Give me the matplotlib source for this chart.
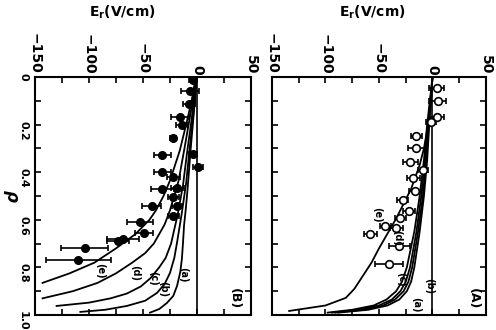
import matplotlib
matplotlib.use('Agg')
import matplotlib.pyplot as plt
from matplotlib.ticker import MultipleLocator

plt.rcParams['font.family'] = ['DejaVu Sans']
plt.rcParams['font.weight'] = 'bold'

# panel (B): filled circles
rho_B = [0.013, 0.06, 0.114, 0.169, 0.20, 0.257, 0.329, 0.325, 0.38, 0.40, 0.42,
         0.47, 0.468, 0.506, 0.544, 0.54, 0.582, 0.608, 0.654, 0.68, 0.69, 0.717, 0.768]
Er_B = [-3.7, -6.5, -7.4, -15.7, -13.9, -22, -32, -3.7, 1, -32, -22,
        -32, -18.5, -22, -42, -18.5, -22, -53, -49, -68.5, -73, -104, -110]
err_B = [4, 8, 6, 8, 6, 3, 8, 4, 5, 8, 6, 11, 6, 5, 9, 5, 5, 12, 8, 15, 10, 22, 30]

# panel (A): open circles
rho_A = [0.046, 0.101, 0.169, 0.19, 0.249, 0.30, 0.359, 0.392, 0.426, 0.477, 0.515,
         0.561, 0.591, 0.624, 0.633, 0.658, 0.709, 0.785]
Er_A = [4, 5, 4, -1.5, -15, -15, -21, -9, -18, -16, -28, -22, -30, -44, -34, -58, -31, -41]
err_A = [7, 8, 7, 5, 5, 8, 7, 5, 6, 6, 5, 6, 5, 5, 6, 6, 10, 13]

# model curves (B)
rho_Ba = [0, 0.1, 0.18, 0.31, 0.4, 0.485, 0.56, 0.624, 0.7, 0.764, 0.82, 0.878, 0.92, 0.95, 0.975, 0.99]
Er_Ba = [-0.5, -2, -3.5, -6, -7.5, -9, -10.5, -12, -13, -14, -15.5, -18.5, -22, -28, -35, -43.5]
rho_Bb = [0, 0.1, 0.18, 0.31, 0.443, 0.57, 0.696, 0.76, 0.823, 0.87, 0.907, 0.94, 0.962, 0.978, 0.987]
Er_Bb = [-0.5, -2, -4, -7, -10, -14, -18.5, -21, -25, -30, -37, -48, -65, -85, -108]
rho_Bc = [0, 0.1, 0.18, 0.31, 0.456, 0.58, 0.7, 0.76, 0.8, 0.845, 0.88, 0.91, 0.93, 0.948, 0.962]
Er_Bc = [-1, -3, -5, -9, -13, -18, -24, -29, -35, -43, -52, -65, -80, -100, -130]
rho_Bd = [0, 0.1, 0.18, 0.31, 0.435, 0.56, 0.62, 0.7, 0.74, 0.78, 0.825, 0.865, 0.9, 0.93]
Er_Bd = [-1, -4, -7, -12, -17, -25, -30, -40, -48, -60, -75, -92, -115, -143]
rho_Be = [0, 0.1, 0.18, 0.31, 0.435, 0.5, 0.56, 0.6, 0.66, 0.72, 0.78, 0.825, 0.865]
Er_Be = [-1, -5, -9, -16, -25, -31, -38, -44, -57, -75, -95, -118, -143]

# model curves (A)
rho_Aa = [0, 0.2, 0.35, 0.5, 0.65, 0.8, 0.86, 0.9, 0.935, 0.96, 0.978, 0.99]
Er_Aa = [0, -3, -5, -8, -12, -17, -20, -24, -31, -42, -60, -88]
rho_Ab = [0, 0.2, 0.35, 0.5, 0.65, 0.8, 0.86, 0.9, 0.935, 0.96, 0.978, 0.99]
Er_Ab = [0, -3.5, -6, -9, -13.5, -19, -22.5, -27, -35, -46, -65, -91]
rho_Ac = [0, 0.2, 0.35, 0.5, 0.65, 0.8, 0.86, 0.9, 0.935, 0.96, 0.978, 0.99]
Er_Ac = [0, -5, -8, -12, -17, -24, -28.5, -34, -43, -55, -75, -98]
rho_Ad = [0, 0.2, 0.35, 0.5, 0.65, 0.8, 0.86, 0.9, 0.935, 0.96, 0.978, 0.99]
Er_Ad = [0, -4, -7, -10.5, -15, -21, -25, -30, -38, -50, -70, -94]
rho_Ae = [0, 0.1, 0.2, 0.3, 0.37, 0.47, 0.595, 0.72, 0.78, 0.835, 0.89, 0.928, 0.96, 0.983]
Er_Ae = [0, -1.5, -4, -8, -12, -20, -34, -50, -57, -65, -73, -81, -100, -134]

labels_B = ['(a)', '(b)', '(c)', '(d)', '(e)']
lab_B_x = [-13, -31, -41, -57, -90]
lab_B_y = [0.83, 0.89, 0.848, 0.823, 0.814]
labels_A = ['(a)', '(b)', '(c)', '(d)', '(e)']
lab_A_x = [-15, -3, -29, -33, -52]
lab_A_y = [0.955, 0.877, 0.85, 0.675, 0.578]

x_ticks = [-150, -100, -50, 0, 50]
x_ticklabels = ['\u2212150', '\u2212100', '\u221250', '0', '50']
rho_ticks = [0, 0.2, 0.4, 0.6, 0.8, 1.0]
rho_ticklabels = ['0', '0.2', '0.4', '0.6', '0.8', '1.0']

fig = plt.figure(figsize=(4.96, 3.3), dpi=100)
axB = fig.add_axes([35/496, 15/330, 216/496, 238/330])
axA = fig.add_axes([272/496, 15/330, 214/496, 238/330])


def setup(ax, show_rho):
    ax.set_xlim(-150, 50)
    ax.set_ylim(1.0, 0)
    ax.xaxis.tick_top()
    ax.xaxis.set_minor_locator(MultipleLocator(25))
    ax.yaxis.set_minor_locator(MultipleLocator(0.1))
    ax.tick_params(which='both', direction='in', top=True, bottom=True,
                   left=True, right=True, width=1.2, length=4)
    ax.tick_params(axis='x', labelsize=10, pad=2, labelrotation=-90)
    ax.tick_params(axis='y', labelsize=8, pad=5, labelrotation=-90)
    ax.set_xticks(x_ticks)
    ax.set_xticklabels(x_ticklabels, fontweight='bold')
    ax.set_yticks(rho_ticks)
    if show_rho:
        ax.set_yticklabels(rho_ticklabels, fontweight='bold')
    else:
        ax.set_yticklabels([])
    for s in ax.spines.values():
        s.set_linewidth(1.5)
    ax.axvline(0, color='k', lw=1.2)


setup(axB, True)
setup(axA, False)
axB.set_ylabel(r'$\rho$', rotation=-90, fontsize=12, labelpad=12)

for r, e in [(rho_Ba, Er_Ba), (rho_Bb, Er_Bb), (rho_Bc, Er_Bc), (rho_Bd, Er_Bd), (rho_Be, Er_Be)]:
    axB.plot(e, r, color='k', lw=1.3)
for r, e in [(rho_Aa, Er_Aa), (rho_Ab, Er_Ab), (rho_Ac, Er_Ac), (rho_Ad, Er_Ad), (rho_Ae, Er_Ae)]:
    axA.plot(e, r, color='k', lw=1.3)

axB.errorbar(Er_B, rho_B, xerr=err_B, fmt='o', color='k', mfc='k', ms=5.5,
             elinewidth=1.2, capsize=2, capthick=1.2)
axA.errorbar(Er_A, rho_A, xerr=err_A, fmt='o', color='k', mfc='white', ms=5.5,
             mew=1.2, elinewidth=1.2, capsize=2, capthick=1.2)

for t, x, y in zip(labels_B, lab_B_x, lab_B_y):
    axB.text(x, y, t, rotation=-90, fontsize=7, ha='center', va='center', fontweight='bold')
for t, x, y in zip(labels_A, lab_A_x, lab_A_y):
    axA.text(x, y, t, rotation=-90, fontsize=7, ha='center', va='center', fontweight='bold')

axB.text(35, 0.93, '(B)', rotation=-90, fontsize=9, ha='center', va='center', fontweight='bold')
axA.text(38, 0.93, '(A)', rotation=-90, fontsize=9, ha='center', va='center', fontweight='bold')

fig.text(122/496, 1 - 12/330, r'E$_{\rm r}$(V/cm)', fontsize=10, ha='center', va='center',
         fontweight='bold')
fig.text(372/496, 1 - 12/330, r'E$_{\rm r}$(V/cm)', fontsize=10, ha='center', va='center',
         fontweight='bold')

fig.savefig('out.png', dpi=100)
